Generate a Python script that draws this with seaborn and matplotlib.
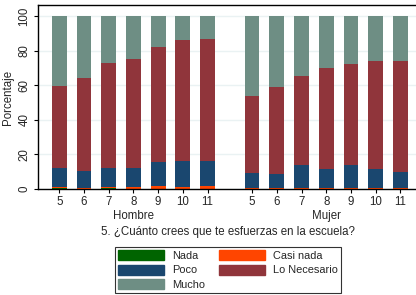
import numpy as np
import pandas as pd
import matplotlib
matplotlib.use("Agg")
import matplotlib.pyplot as plt
import matplotlib.transforms as mtransforms
from matplotlib.patches import Patch
import seaborn as sns

# data (percent of each answer, per sex and grade)
grades = [5, 6, 7, 8, 9, 10, 11]
sexes = ["Hombre", "Mujer"]
nada = [0.3, 0.2, 0.6, 0.2, 0.2, 0.2, 0.2,
        0.1, 0.1, 0.1, 0.1, 0.1, 0.1, 0.1]
casi_nada = [0.9, 0.4, 0.3, 0.7, 1.7, 0.7, 1.3,
             0.3, 0.2, 0.2, 0.2, 0.3, 0.2, 0.2]
poco = [11.2, 9.8, 11.5, 11.5, 13.9, 15.5, 14.9,
        8.7, 8.2, 13.4, 11.1, 13.5, 11.5, 9.7]
lo_necesario = [47.4, 53.9, 60.2, 62.5, 66.4, 69.5, 70.3,
                44.8, 50.6, 51.7, 58.3, 58.5, 62.5, 64.3]
mucho = [40.2, 35.7, 27.4, 25.1, 17.8, 14.1, 13.3,
         46.1, 40.9, 34.6, 30.3, 27.6, 25.7, 25.7]

labels = ["Nada", "Casi nada", "Poco", "Lo Necesario", "Mucho"]
colors = ["#006400", "#ff4500", "#1a476f", "#90353b", "#6e8e84"]

# x positions: two groups with a gap between them
gap = 1.8
pos = [i for i in range(len(grades))] + [len(grades) - 1 + gap + i for i in range(len(grades))]

df = pd.DataFrame({
    "pos": pos,
    "sex": np.repeat(sexes, len(grades)),
    "grade": grades * 2,
    "Nada": nada,
    "Casi nada": casi_nada,
    "Poco": poco,
    "Lo Necesario": lo_necesario,
    "Mucho": mucho,
})
cum = df[labels].cumsum(axis=1)

sns.set_style("white")
plt.rcParams["font.family"] = ["Liberation Sans", "DejaVu Sans"]

fig = plt.figure(figsize=(4.16, 2.95), dpi=100)
ax = fig.add_axes([38 / 416, 1 - 189 / 295, 1 - 38 / 416 + 0.01, (189 - 5) / 295])

# stacked bars: draw cumulative tops, biggest first
for lab, col in reversed(list(zip(labels, colors))):
    tmp = pd.DataFrame({"pos": df["pos"], "val": cum[lab]})
    sns.barplot(data=tmp, x="pos", y="val", native_scale=True, width=0.6,
                color=col, saturation=1, errorbar=None, linewidth=0, ax=ax)

ax.set_xlim(-0.86, 14.6)
ax.set_ylim(0, 106.4)
ax.set_yticks([0, 20, 40, 60, 80, 100])
ax.set_yticklabels(["0", "20", "40", "60", "80", "100"], rotation=90, va="center", fontsize=8.3)
ax.set_xticks(pos)
ax.set_xticklabels([str(g) for g in df["grade"]], fontsize=8.3)
ax.tick_params(axis="x", length=3, width=0.8, color="black", pad=2, bottom=True)
ax.tick_params(axis="y", length=3, width=0.8, color="black", pad=2.5, left=True)
ax.set_xlabel("")
ax.set_ylabel("Porcentaje", fontsize=8.3)
ax.yaxis.set_label_coords(-0.062, 0.5)
ax.yaxis.grid(True, color="#eaf2f3", linewidth=1)
ax.set_axisbelow(True)
for s in ["left", "top", "bottom"]:
    ax.spines[s].set_visible(True)
    ax.spines[s].set_color("black")
    ax.spines[s].set_linewidth(1)
ax.spines["right"].set_visible(False)

# group labels
trans = mtransforms.blended_transform_factory(ax.transData, fig.transFigure)
for s in sexes:
    ax.text(df.loc[df["sex"] == s, "pos"].mean(), 1 - 216 / 295, s,
            transform=trans, ha="center", va="center", fontsize=8.3)
fig.text(228 / 416, 1 - 232 / 295, "5. ¿Cuánto crees que te esfuerzas en la escuela?",
         ha="center", va="center", fontsize=8.3)

handles = [Patch(facecolor=c, edgecolor=c, label=l) for l, c in zip(labels, colors)]
order = [0, 2, 4, 1, 3]
leg = fig.legend([handles[i] for i in order], [labels[i] for i in order],
                 ncol=2, loc="upper center", bbox_to_anchor=(228 / 416, 1 - 247 / 295),
                 borderaxespad=0, fontsize=7.9, frameon=True, fancybox=False,
                 handlelength=4.2, handleheight=1.0, columnspacing=1.3,
                 labelspacing=0.35, borderpad=0.3, handletextpad=0.7)
leg.get_frame().set_edgecolor("black")
leg.get_frame().set_linewidth(0.8)

fig.savefig("out.png", dpi=100)
